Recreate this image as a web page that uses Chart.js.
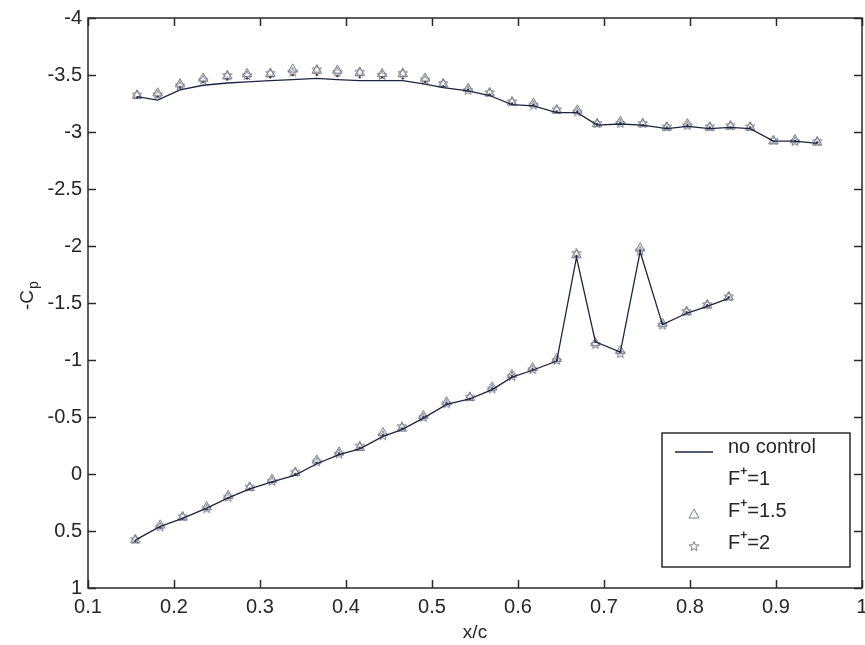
<!DOCTYPE html>
<html><head><meta charset="utf-8">
<script src="https://cdn.jsdelivr.net/npm/chart.js@4.4.0/dist/chart.umd.min.js"></script>
<style>
html,body{margin:0;padding:0;background:#fff;overflow:hidden;width:865px;height:645px}
#wrap{position:relative;width:880px;height:645px}
</style></head>
<body><div id="wrap"><canvas id="c" width="880" height="645"></canvas></div>
<script>
// ---- data ----
const xUpper = [0.157,0.181,0.207,0.234,0.262,0.285,0.312,0.338,0.366,0.390,0.416,0.442,0.466,0.492,0.513,0.542,0.567,0.593,0.618,0.645,0.669,0.692,0.719,0.745,0.773,0.797,0.823,0.847,0.870,0.897,0.922,0.948];
const cpUpperNoControl = [-3.31,-3.28,-3.37,-3.41,-3.43,-3.44,-3.45,-3.46,-3.47,-3.46,-3.45,-3.45,-3.45,-3.42,-3.39,-3.36,-3.32,-3.24,-3.23,-3.17,-3.17,-3.06,-3.07,-3.06,-3.03,-3.05,-3.03,-3.04,-3.03,-2.92,-2.92,-2.90];
const cpUpperF1 = [-3.30,-3.31,-3.39,-3.44,-3.46,-3.47,-3.48,-3.50,-3.50,-3.49,-3.48,-3.48,-3.47,-3.44,-3.40,-3.37,-3.33,-3.25,-3.24,-3.18,-3.18,-3.07,-3.08,-3.06,-3.04,-3.06,-3.04,-3.04,-3.04,-2.92,-2.92,-2.91];
const cpUpperF15 = [-3.32,-3.34,-3.42,-3.47,-3.49,-3.51,-3.51,-3.55,-3.54,-3.54,-3.52,-3.51,-3.51,-3.47,-3.42,-3.38,-3.34,-3.26,-3.25,-3.19,-3.19,-3.07,-3.09,-3.07,-3.04,-3.07,-3.04,-3.05,-3.04,-2.92,-2.93,-2.91];
const cpUpperF2 = [-3.33,-3.33,-3.41,-3.46,-3.50,-3.50,-3.52,-3.53,-3.55,-3.53,-3.53,-3.50,-3.52,-3.46,-3.43,-3.37,-3.35,-3.27,-3.24,-3.20,-3.18,-3.08,-3.08,-3.08,-3.05,-3.06,-3.05,-3.06,-3.05,-2.93,-2.92,-2.92];

const xLower = [0.155,0.184,0.210,0.238,0.263,0.288,0.314,0.341,0.366,0.392,0.416,0.443,0.465,0.490,0.517,0.544,0.570,0.593,0.617,0.645,0.668,0.690,0.719,0.742,0.768,0.796,0.820,0.845];
const cpLowerNoControl = [0.58,0.46,0.39,0.30,0.21,0.13,0.07,0.01,-0.09,-0.17,-0.22,-0.33,-0.39,-0.49,-0.61,-0.66,-0.74,-0.85,-0.91,-0.99,-1.90,-1.16,-1.07,-1.95,-1.31,-1.41,-1.47,-1.54];
const cpLowerF1 = [0.59,0.47,0.39,0.31,0.21,0.13,0.07,0.00,-0.10,-0.18,-0.23,-0.34,-0.40,-0.50,-0.62,-0.66,-0.75,-0.86,-0.92,-1.00,-1.91,-1.16,-1.07,-1.96,-1.32,-1.42,-1.48,-1.55];
const cpLowerF15 = [0.58,0.45,0.38,0.29,0.19,0.12,0.05,-0.01,-0.12,-0.19,-0.23,-0.36,-0.40,-0.51,-0.63,-0.67,-0.76,-0.87,-0.93,-1.01,-1.92,-1.15,-1.08,-1.98,-1.32,-1.42,-1.48,-1.55];
const cpLowerF2 = [0.57,0.46,0.37,0.30,0.20,0.11,0.06,-0.02,-0.11,-0.18,-0.25,-0.34,-0.42,-0.50,-0.62,-0.68,-0.75,-0.86,-0.92,-1.00,-1.94,-1.14,-1.06,-1.96,-1.31,-1.43,-1.49,-1.56];

const seriesNames = ['no control','F+=1','F+=1.5','F+=2'];
const xTickLabels = ['0.1','0.2','0.3','0.4','0.5','0.6','0.7','0.8','0.9','1'];
const yTickLabels = ['-4','-3.5','-3','-2.5','-2','-1.5','-1','-0.5','0','0.5','1'];
const xTitle = 'x/c';

// ---- styles ----
const FONT = 'Liberation Sans';
const TXT = '#262626';
const LINE = '#1f2440';
const MARK = '#7a7f8c';

function pts(xs, ys){ return xs.map((x,i)=>({x:x, y:ys[i]})); }
function labelFor(list, v){
  for (const s of list){ if (Math.abs(parseFloat(s) - v) < 1e-6) return s; }
  return '';
}

// pentagram marker
const starImg = (function(){
  const c = document.createElement('canvas'); c.width = 12; c.height = 12;
  const g = c.getContext('2d'); g.strokeStyle = MARK; g.lineWidth = 1;
  g.beginPath();
  for (let i=0;i<10;i++){
    const r = i%2===0 ? 5 : 2.1;
    const a = -Math.PI/2 + i*Math.PI/5;
    const px = 6 + r*Math.cos(a), py = 6.5 + r*Math.sin(a);
    if (i===0) g.moveTo(px,py); else g.lineTo(px,py);
  }
  g.closePath(); g.stroke();
  return c;
})();

const lineDs = (data) => ({data, showLine:true, borderColor:LINE, borderWidth:1.3, pointRadius:0, fill:false, tension:0, order:1});
const dotDs = (data) => ({data, showLine:false, pointStyle:'circle', pointRadius:1.2, backgroundColor:'#3a3f55', borderColor:'#3a3f55', borderWidth:0, order:2});
const triDs = (data) => ({data, showLine:false, pointStyle:'triangle', pointRadius:5.5, backgroundColor:'rgba(0,0,0,0)', borderColor:MARK, borderWidth:1, order:3});
const starDs = (data) => ({data, showLine:false, pointStyle:starImg, pointRadius:5, order:4});

const datasets = [
  Object.assign(lineDs(pts(xUpper,cpUpperNoControl)), {label:seriesNames[0]}),
  Object.assign(lineDs(pts(xLower,cpLowerNoControl)), {label:seriesNames[0]}),
  Object.assign(dotDs(pts(xUpper,cpUpperF1)), {label:seriesNames[1]}),
  Object.assign(dotDs(pts(xLower,cpLowerF1)), {label:seriesNames[1]}),
  Object.assign(triDs(pts(xUpper,cpUpperF15)), {label:seriesNames[2]}),
  Object.assign(triDs(pts(xLower,cpLowerF15)), {label:seriesNames[2]}),
  Object.assign(starDs(pts(xUpper,cpUpperF2)), {label:seriesNames[3]}),
  Object.assign(starDs(pts(xLower,cpLowerF2)), {label:seriesNames[3]})
];

// frame with inward ticks on all four sides, y title with subscript, legend box
const framePlugin = {
  id:'frame',
  afterDraw(chart){
    const {ctx, chartArea:a, scales:{x, y}} = chart;
    ctx.save();
    ctx.strokeStyle = '#2a2a2a'; ctx.lineWidth = 1.5;
    ctx.strokeRect(a.left, a.top, a.right-a.left, a.bottom-a.top);
    const L = 8;
    ctx.beginPath();
    x.ticks.forEach(t=>{ const p = Math.round(x.getPixelForValue(t.value))+0.5;
      ctx.moveTo(p,a.bottom); ctx.lineTo(p,a.bottom-L); ctx.moveTo(p,a.top); ctx.lineTo(p,a.top+L); });
    y.ticks.forEach(t=>{ const p = Math.round(y.getPixelForValue(t.value))+0.5;
      ctx.moveTo(a.left,p); ctx.lineTo(a.left+L,p); ctx.moveTo(a.right,p); ctx.lineTo(a.right-L,p); });
    ctx.stroke();

    // y axis title: -C with subscript p, rotated
    ctx.fillStyle = TXT;
    ctx.translate(33, 310); ctx.rotate(-Math.PI/2);
    ctx.textBaseline = 'alphabetic'; ctx.textAlign = 'left';
    ctx.font = '19px "' + FONT + '"';
    ctx.fillText('-C', 0, 0);
    const w = ctx.measureText('-C').width;
    ctx.font = '14px "' + FONT + '"';
    ctx.fillText('p', w+1, 5);
    ctx.setTransform(1,0,0,1,0,0);

    // legend box
    const bx = 662, by = 433, bw = 188, bh = 134;
    ctx.fillStyle = '#fff'; ctx.fillRect(bx, by, bw, bh);
    ctx.strokeStyle = '#2a2a2a'; ctx.lineWidth = 1.5; ctx.strokeRect(bx, by, bw, bh);
    const rows = [447, 479, 511, 543];
    const tx = 728, sx = 694;
    ctx.strokeStyle = LINE; ctx.lineWidth = 1.3;
    ctx.beginPath(); ctx.moveTo(675, rows[0]+5); ctx.lineTo(713, rows[0]+5); ctx.stroke();
    ctx.strokeStyle = MARK; ctx.lineWidth = 1;
    ctx.beginPath(); ctx.moveTo(sx, rows[2]-2); ctx.lineTo(sx+5, rows[2]+7); ctx.lineTo(sx-5, rows[2]+7); ctx.closePath(); ctx.stroke();
    ctx.drawImage(starImg, sx-6, rows[3]-3);
    ctx.fillStyle = TXT; ctx.textBaseline = 'middle'; ctx.textAlign = 'left';
    ctx.font = '20px "' + FONT + '"';
    ctx.fillText(seriesNames[0], tx, rows[0]);
    for (let i=1;i<4;i++){
      const rest = seriesNames[i].slice(2);
      ctx.font = '20px "' + FONT + '"';
      ctx.fillText('F', tx, rows[i]);
      const fw = ctx.measureText('F').width;
      ctx.font = 'bold 12px "' + FONT + '"';
      ctx.fillText('+', tx+fw, rows[i]-7);
      const pw = ctx.measureText('+').width;
      ctx.font = '20px "' + FONT + '"';
      ctx.fillText(rest, tx+fw+pw, rows[i]);
    }
    ctx.restore();
  }
};

new Chart(document.getElementById('c'), {
  type:'scatter',
  data:{datasets},
  options:{
    responsive:false, animation:false,
    layout:{padding:{left:0, top:17, right:18, bottom:0}},
    plugins:{legend:{display:false}, tooltip:{enabled:false}},
    scales:{
      x:{type:'linear', min:0.1, max:1,
        ticks:{stepSize:0.1, color:TXT, font:{family:FONT, size:20}, padding:7, maxRotation:0, autoSkip:false,
          callback:(v)=>labelFor(xTickLabels, v)},
        grid:{display:false, drawTicks:false},
        border:{display:false},
        title:{display:true, text:xTitle, color:TXT, font:{family:FONT, size:19}, padding:{top:0, bottom:1}},
        afterFit:(s)=>{ s.height = 57; }
      },
      y:{type:'linear', min:-4, max:1, reverse:true,
        ticks:{stepSize:0.5, color:TXT, font:{family:FONT, size:20}, padding:6, autoSkip:false,
          callback:(v)=>labelFor(yTickLabels, v)},
        grid:{display:false, drawTicks:false},
        border:{display:false},
        afterFit:(s)=>{ s.width = 88; }
      }
    }
  },
  plugins:[framePlugin]
});
</script>
</body></html>
